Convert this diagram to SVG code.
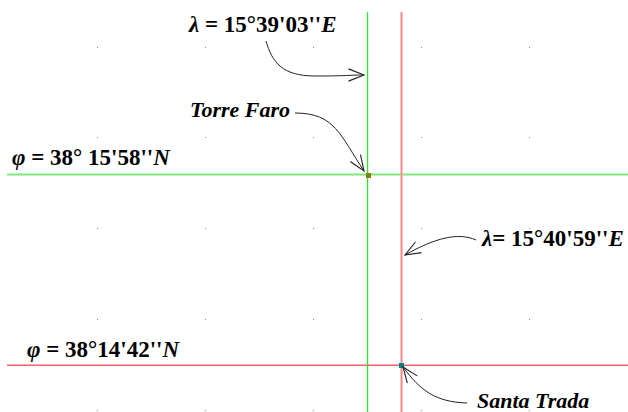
<svg xmlns="http://www.w3.org/2000/svg" width="628" height="412" viewBox="0 0 628 412">
<style>
.lbl{font-family:"Liberation Serif","DejaVu Serif",serif;font-size:22px;font-weight:bold;fill:#000}
.f{font-size:23px}
.it{font-style:italic}
.arr{fill:none;stroke:#222;stroke-width:1}
.dot{fill:#888}
</style>
<defs>
<marker id="ah" markerUnits="userSpaceOnUse" markerWidth="20" markerHeight="20" refX="0" refY="0" viewBox="-16 -8 18 16" orient="auto" overflow="visible">
<path d="M-14,-5.5 L0,0 L-14,5.5" fill="none" stroke="#222" stroke-width="1"/>
</marker>
</defs>
<rect width="628" height="412" fill="#fff"/>
<g id="grid">
<rect class="dot" x="97" y="47" width="1" height="1"/><rect class="dot" x="205" y="47" width="1" height="1"/><rect class="dot" x="313" y="47" width="1" height="1"/><rect class="dot" x="421" y="47" width="1" height="1"/><rect class="dot" x="529" y="47" width="1" height="1"/>
<rect class="dot" x="97" y="137" width="1" height="1"/><rect class="dot" x="205" y="137" width="1" height="1"/><rect class="dot" x="313" y="137" width="1" height="1"/><rect class="dot" x="421" y="137" width="1" height="1"/><rect class="dot" x="529" y="137" width="1" height="1"/>
<rect class="dot" x="97" y="228" width="1" height="1"/><rect class="dot" x="205" y="228" width="1" height="1"/><rect class="dot" x="313" y="228" width="1" height="1"/><rect class="dot" x="421" y="228" width="1" height="1"/><rect class="dot" x="529" y="228" width="1" height="1"/>
<rect class="dot" x="97" y="319" width="1" height="1"/><rect class="dot" x="205" y="319" width="1" height="1"/><rect class="dot" x="313" y="319" width="1" height="1"/><rect class="dot" x="421" y="319" width="1" height="1"/><rect class="dot" x="529" y="319" width="1" height="1"/>
<rect class="dot" x="97" y="410" width="1" height="1"/><rect class="dot" x="205" y="410" width="1" height="1"/><rect class="dot" x="313" y="410" width="1" height="1"/><rect class="dot" x="421" y="410" width="1" height="1"/><rect class="dot" x="529" y="410" width="1" height="1"/>
</g>
<g id="lines">
<rect x="7" y="173.5" width="621" height="2" fill="#7fe87f"/>
<rect x="7" y="364.5" width="621" height="1.5" fill="#f06666"/>
<rect x="367" y="12" width="1.2" height="400" fill="#22ee22"/>
<rect x="400.5" y="12" width="2" height="400" fill="#ff8888"/>
</g>
<g id="torre-faro-point"><rect x="366" y="173" width="5" height="5" fill="#808000"/></g>
<g id="santa-trada-point"><rect x="399" y="363" width="5" height="5" fill="#008080"/></g>
<g id="connectors">
<path class="arr" d="M266,41 C272,62 282,76 315,76 S350,75 364,75" marker-end="url(#ah)"/>
<path class="arr" d="M295,113 C335,113 340,135 364,171" marker-end="url(#ah)"/>
<path class="arr" d="M476,240 C458,232 435,238 405,255" marker-end="url(#ah)"/>
<path class="arr" d="M467,403 C435,402 420,390 403,367" marker-end="url(#ah)"/>
</g>
<g id="label-lambda1"><text class="lbl f" x="189" y="32"><tspan class="it">λ</tspan> = 15°39'03''<tspan class="it">E</tspan></text></g>
<g id="label-torre-faro"><text class="lbl it" x="190" y="117">Torre Faro</text></g>
<g id="label-phi1"><text class="lbl f" x="12" y="165"><tspan class="it">φ</tspan> = 38° 15'58''<tspan class="it">N</tspan></text></g>
<g id="label-lambda2"><text class="lbl f" x="482" y="246"><tspan class="it">λ</tspan>= 15°40'59''<tspan class="it">E</tspan></text></g>
<g id="label-phi2"><text class="lbl f" x="27" y="357"><tspan class="it">φ</tspan> = 38°14'42''<tspan class="it">N</tspan></text></g>
<g id="label-santa-trada"><text class="lbl it" x="477" y="408">Santa Trada</text></g>
</svg>
